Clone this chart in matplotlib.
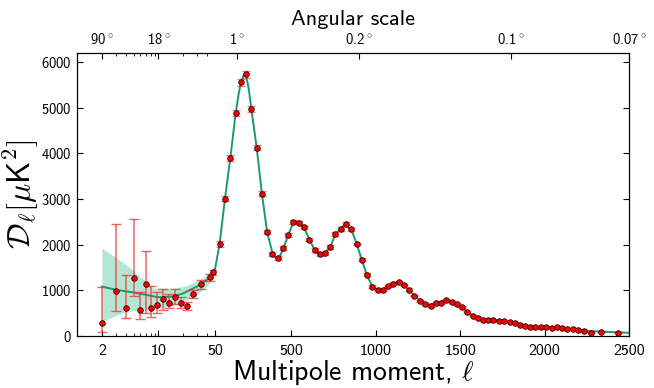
import numpy as np
import matplotlib
matplotlib.use('Agg')
import matplotlib.pyplot as plt
from matplotlib.ticker import FixedLocator, FixedFormatter, NullFormatter

plt.rcParams['font.family'] = 'cmss10'
plt.rcParams['mathtext.fontset'] = 'cm'
plt.rcParams['axes.formatter.use_mathtext'] = True

# low-ell binned points (asymmetric errors)
low_ell = [2, 3, 4, 5, 6, 7, 8, 9.5, 11.5, 13.5, 16, 19, 22.5, 27, 34, 43.5]
low_D = [279, 988, 622, 1266, 571, 1141, 622, 680, 805, 732, 864, 732, 659, 922, 1135, 1289]
low_hi = [1083, 2452, 1339, 2561, 973, 1851, 1098, 973, 1032, 922, 1025, 864, 753, 1010, 1229, 1361]
low_lo = [94, 549, 388, 878, 366, 505, 410, 512, 571, 607, 702, 622, 571, 828, 1039, 1214]

# high-ell binned points
high_ell = [47, 77, 109, 141, 172, 203, 234, 265, 297, 327, 358, 389, 420, 454, 484, 514,
            546, 577, 609, 640, 671, 702, 732, 762, 794, 826, 857, 889, 918, 948, 980,
            1012, 1043, 1073, 1105, 1137, 1168, 1200, 1230, 1262, 1293, 1326, 1357, 1387,
            1418, 1450, 1482, 1512, 1543, 1576, 1607, 1637, 1667, 1698, 1730, 1762, 1793,
            1823, 1853, 1883, 1915, 1946, 1978, 2010, 2042, 2071, 2103, 2135, 2167, 2198,
            2232, 2274, 2333, 2433]
high_D = [1390, 2013, 3008, 3901, 4880, 5548, 5730, 4968, 4121, 3117, 2268, 1800, 1700,
          1925, 2217, 2496, 2481, 2378, 2108, 1880, 1790, 1810, 1947, 2233, 2340, 2459,
          2334, 2013, 1668, 1339, 1083, 1003, 1010, 1098, 1148, 1186, 1113, 1016, 885, 775,
          709, 659, 724, 731, 790, 746, 696, 637, 527, 446, 389, 358, 351, 345, 336, 323,
          314, 292, 248, 220, 205, 190, 198, 205, 183, 190, 183, 161, 154, 139, 110, 73, 95, 73]
high_err = [60, 60, 60, 70, 70, 80, 80, 70, 60, 50, 45, 40, 40, 40, 40, 40, 40, 40, 35, 35,
            35, 35, 35, 35, 35, 35, 30, 30, 30, 30, 25, 25, 25, 25, 25, 25, 25, 25, 20, 20,
            20, 20, 20, 20, 20, 20, 20, 20, 15, 15, 15, 15, 15, 15, 15, 15, 15, 15, 15, 15,
            15, 15, 15, 15, 15, 15, 15, 15, 15, 15, 15, 15, 15, 15]

# best-fit model curve
model_ell = [2, 3, 5, 7, 10, 15, 20, 30, 40, 50, 77, 109, 141, 172, 190, 203, 220, 234, 250,
             265, 297, 327, 358, 389, 410, 430, 454, 484, 514, 535, 546, 577, 609, 640, 675,
             702, 732, 762, 796, 818, 857, 889, 918, 948, 980, 1012, 1043, 1073, 1105, 1137,
             1168, 1200, 1230, 1262, 1293, 1326, 1357, 1387, 1418, 1450, 1482, 1512, 1543,
             1576, 1607, 1637, 1667, 1698, 1730, 1762, 1793, 1823, 1853, 1883, 1915, 1946,
             1978, 2010, 2042, 2071, 2103, 2135, 2167, 2198, 2232, 2274, 2333, 2433, 2500]
model_D = [1083, 1010, 951, 900, 849, 864, 930, 1083, 1229, 1463, 2010, 3010, 3910, 4870,
           5300, 5540, 5720, 5700, 5400, 4970, 4110, 3130, 2280, 1830, 1700, 1710, 1910,
           2220, 2480, 2510, 2490, 2370, 2110, 1880, 1790, 1810, 1950, 2220, 2360, 2440,
           2330, 2010, 1670, 1340, 1090, 1010, 1020, 1090, 1160, 1180, 1110, 1010, 880, 780,
           710, 680, 720, 750, 770, 740, 690, 620, 530, 450, 395, 365, 350, 343, 335, 323,
           308, 285, 255, 225, 210, 200, 198, 198, 190, 180, 172, 160, 150, 138, 122, 108,
           95, 80, 70]

# cosmic variance band at low ell
band_ell = [2, 4, 7, 8.8, 12, 16, 22, 32, 40, 48]
band_hi = [1925, 1560, 1192, 1047, 1047, 1047, 1100, 1229, 1350, 1493]
band_lo = [314, 542, 571, 600, 640, 680, 780, 937, 1100, 1266]

K = 479.0


def fwd(x):
    x = np.asarray(x, dtype=float)
    with np.errstate(divide='ignore', invalid='ignore'):
        lg = 50 + K * np.log10(np.maximum(x, 1e-6) / 50.0)
    return np.where(x <= 50, lg, x)


def inv(u):
    u = np.asarray(u, dtype=float)
    with np.errstate(over='ignore'):
        lg = 50 * 10 ** ((np.minimum(u, 50) - 50) / K)
    return np.where(u <= 50, lg, u)


green = '#1a9a6c'
fig = plt.figure(figsize=(6.54, 3.88), dpi=100)
ax = fig.add_axes([0.1185, 0.134, 0.8433, 0.7302])
ax.set_xscale('function', functions=(fwd, inv))

ax.fill_between(band_ell, band_lo, band_hi, color='#2ab884', alpha=0.35, lw=0)
ax.plot(model_ell, model_D, color=green, lw=1.4, zorder=2)

low_err = [np.array(low_D) - np.array(low_lo), np.array(low_hi) - np.array(low_D)]
ax.errorbar(low_ell, low_D, yerr=low_err, fmt='none', ecolor='#ee3030', alpha=0.75,
            elinewidth=1.1, capsize=3.5, capthick=1, zorder=3)
ax.errorbar(high_ell, high_D, yerr=high_err, fmt='none', ecolor='#ee3030', alpha=0.6,
            elinewidth=1, capsize=3, capthick=1, zorder=3)
ax.plot(low_ell + high_ell, low_D + high_D, 'o', color='red', mec='#300000', mew=0.6,
        ms=4, zorder=4, ls='none')

ax.set_xlim(1, 2500)
ax.set_ylim(0, 6200)
ax.xaxis.set_major_locator(FixedLocator([2, 10, 50, 500, 1000, 1500, 2000, 2500]))
ax.xaxis.set_major_formatter(FixedFormatter(['2', '10', '50', '500', '1000', '1500', '2000', '2500']))
minors = [3, 4, 5, 6, 7, 8, 9, 20, 30, 40]
ax.xaxis.set_minor_locator(FixedLocator(minors))
ax.xaxis.set_minor_formatter(NullFormatter())
ax.set_yticks([0, 1000, 2000, 3000, 4000, 5000, 6000])
ax.tick_params(axis='both', which='major', direction='in', length=4, width=0.8)
ax.tick_params(axis='both', which='minor', direction='in', length=2, width=0.6)
ax.tick_params(axis='x', labelsize=11.5, pad=6)
ax.tick_params(axis='y', labelsize=10.5, right=True, pad=4)
ax.set_xlabel(r'Multipole moment, $\ell$', fontsize=20, labelpad=0)
ax.set_ylabel(r'$\mathcal{D}_\ell [\mu \mathsf{K}^2]$', fontsize=23, labelpad=0)

top = ax.twiny()
top.set_xscale('function', functions=(fwd, inv))
top.set_xlim(1, 2500)
top.xaxis.set_major_locator(FixedLocator([2, 10, 180, 900, 1800, 2500]))
top.xaxis.set_major_formatter(FixedFormatter([r'90$^\circ$', r'18$^\circ$', r'1$^\circ$',
                                               r'0.2$^\circ$', r'0.1$^\circ$', r'0.07$^\circ$']))
top.xaxis.set_minor_locator(FixedLocator(minors))
top.xaxis.set_minor_formatter(NullFormatter())
top.tick_params(axis='x', which='major', direction='in', length=4, width=0.8, labelsize=10.5, pad=4)
top.tick_params(axis='x', which='minor', direction='in', length=2, width=0.6)
top.set_xlabel('Angular scale', fontsize=16, labelpad=5)

fig.savefig('out.png', dpi=100)
